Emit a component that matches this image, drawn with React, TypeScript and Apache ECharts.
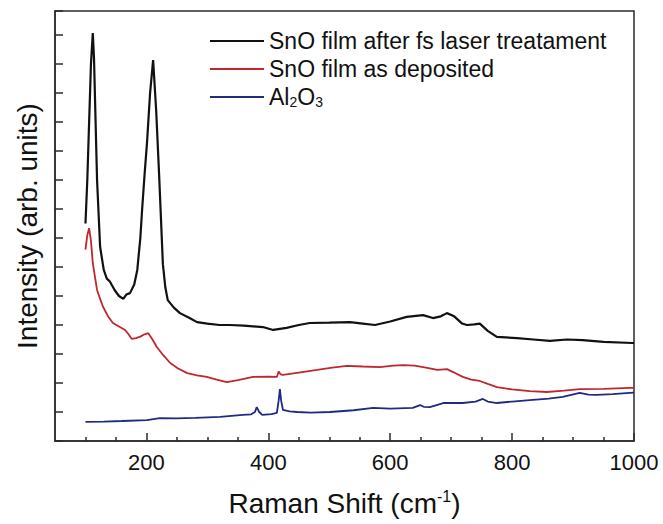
import React, { useEffect, useRef } from "react";
import * as echarts from "echarts";

// Raman shift (cm^-1) and intensity (arb. units) for each spectrum
const treatedX = [100, 103, 106, 109, 112, 114, 116, 119, 124, 130, 135, 140, 148, 155, 162, 167, 173, 180, 185, 190, 193, 197, 201, 206, 211, 216, 221, 227, 231, 235, 245, 255, 270, 283, 300, 320, 337, 360, 391, 408, 430, 450, 468, 500, 534, 555, 575, 600, 627, 654, 670, 683, 693, 705, 718, 726, 738, 747, 760, 775, 808, 835, 862, 890, 916, 950, 997, 1000];
const treatedY = [7.5, 9.0, 11.0, 13.0, 14.07, 13.2, 11.5, 9.0, 6.7, 5.9, 5.6, 5.5, 5.2, 5.0, 4.9, 5.05, 5.1, 5.4, 5.9, 7.0, 8.0, 9.2, 10.3, 12.0, 13.14, 11.4, 9.1, 6.1, 5.3, 4.86, 4.6, 4.41, 4.25, 4.1, 4.05, 4.0, 4.0, 3.98, 3.93, 3.83, 3.9, 4.0, 4.07, 4.08, 4.1, 4.05, 4.0, 4.12, 4.28, 4.34, 4.24, 4.3, 4.41, 4.3, 4.05, 4.0, 4.02, 4.05, 3.8, 3.59, 3.55, 3.5, 3.45, 3.5, 3.48, 3.42, 3.38, 3.38];

const depositedX = [100, 103, 106, 109, 112, 116, 119, 124, 129, 137, 145, 155, 165, 170, 176, 183, 190, 197, 203, 210, 217, 228, 239, 252, 267, 283, 299, 315, 332, 350, 375, 400, 414, 417, 420, 424, 450, 480, 505, 529, 555, 583, 605, 621, 640, 654, 667, 677, 693, 705, 719, 733, 747, 760, 775, 800, 829, 857, 885, 911, 950, 993, 1000];
const depositedY = [6.6, 7.1, 7.34, 6.9, 6.14, 5.6, 5.21, 4.9, 4.62, 4.3, 4.07, 3.95, 3.83, 3.7, 3.52, 3.55, 3.6, 3.68, 3.72, 3.5, 3.24, 2.95, 2.69, 2.5, 2.34, 2.26, 2.21, 2.12, 2.03, 2.1, 2.21, 2.22, 2.21, 2.4, 2.3, 2.28, 2.36, 2.45, 2.53, 2.59, 2.57, 2.55, 2.6, 2.62, 2.6, 2.55, 2.5, 2.45, 2.48, 2.36, 2.21, 2.12, 2.07, 1.97, 1.86, 1.78, 1.72, 1.69, 1.74, 1.79, 1.8, 1.83, 1.83];

const substrateX = [100, 130, 160, 201, 222, 250, 280, 321, 358, 372, 378, 381, 385, 390, 405, 414, 417, 419, 421, 424, 435, 447, 470, 501, 540, 572, 600, 637, 649, 655, 665, 687, 719, 740, 752, 760, 775, 800, 829, 860, 883, 911, 925, 939, 965, 993, 1000];
const substrateY = [0.66, 0.67, 0.69, 0.72, 0.79, 0.78, 0.8, 0.83, 0.9, 0.92, 1.0, 1.17, 1.0, 0.9, 0.93, 0.97, 1.4, 1.79, 1.4, 1.07, 1.02, 1.0, 0.98, 1.0, 1.06, 1.14, 1.12, 1.14, 1.24, 1.18, 1.17, 1.31, 1.31, 1.36, 1.45, 1.36, 1.31, 1.36, 1.41, 1.46, 1.52, 1.66, 1.6, 1.59, 1.62, 1.66, 1.67];

const seriesNames = ["SnO film after fs laser treatament", "SnO film as deposited", "Al2O3"];
const xMajorTicks = [200, 400, 600, 800, 1000];
const xMinorTicks = [100, 150, 250, 300, 350, 450, 500, 550, 650, 700, 750, 850, 900, 950];

const zip = (xs: number[], ys: number[]) => xs.map((x, i) => [x, ys[i]]);

const FONT = "'Liberation Sans', Arial, Helvetica, sans-serif";
const AXIS_COLOR = "#2b2b2b";

export default function App() {
  const ref = useRef<HTMLDivElement>(null);

  useEffect(() => {
    if (!ref.current) return;
    const chart = echarts.init(ref.current, undefined, { renderer: "svg" });
    const colors = ["#111111", "#c0272d", "#1f2a82"];
    chart.setOption({
      animation: false,
      backgroundColor: "#ffffff",
      textStyle: { fontFamily: FONT },
      grid: {
        left: 55,
        top: 11,
        right: 29,
        bottom: 83,
        show: true,
        borderColor: AXIS_COLOR,
        borderWidth: 1.5,
        backgroundColor: "transparent",
      },
      legend: {
        orient: "vertical",
        left: 205,
        top: 24,
        itemWidth: 54,
        itemHeight: 2,
        itemGap: 4,
        icon: "rect",
        data: seriesNames.map((n, i) => ({
          name: n,
          itemStyle: { color: colors[i] },
        })),
        formatter: (name: string) =>
          name === "Al2O3" ? "Al{sub|2}O{sub|3}" : name,
        textStyle: {
          fontFamily: FONT,
          fontSize: 23,
          color: "#111",
          lineHeight: 24,
          rich: {
            sub: {
              fontFamily: FONT,
              fontSize: 14,
              lineHeight: 2,
              verticalAlign: "bottom",
              color: "#111",
            },
          },
        },
      },
      xAxis: [
        {
          type: "value",
          min: 50,
          max: 1000,
          name: "Raman Shift (cm{sup|-1})",
          nameLocation: "middle",
          nameGap: 47,
          nameTextStyle: {
            fontFamily: FONT,
            fontSize: 28,
            color: "#111",
            lineHeight: 30,
            rich: {
              sup: {
                fontFamily: FONT,
                fontSize: 16,
                lineHeight: 14,
                verticalAlign: "top",
                color: "#111",
              },
            },
          },
          axisLine: { show: true, lineStyle: { color: AXIS_COLOR, width: 1.5 } },
          axisTick: {
            show: true,
            inside: true,
            length: 8,
            customValues: xMajorTicks,
            lineStyle: { color: AXIS_COLOR, width: 1.5 },
          },
          axisLabel: {
            customValues: xMajorTicks,
            formatter: (v: number) => String(v),
            fontFamily: FONT,
            fontSize: 22,
            color: "#111",
            margin: 10,
          },
          splitLine: { show: false },
        },
        {
          type: "value",
          min: 50,
          max: 1000,
          position: "bottom",
          axisLine: { show: false },
          axisTick: {
            show: true,
            inside: true,
            length: 4,
            customValues: xMinorTicks,
            lineStyle: { color: AXIS_COLOR, width: 1.5 },
          },
          axisLabel: { show: false },
          splitLine: { show: false },
        },
      ],
      yAxis: {
        type: "value",
        min: 0,
        max: 14.83,
        interval: 1,
        name: "Intensity (arb. units)",
        nameLocation: "middle",
        nameGap: 14,
        nameTextStyle: { fontFamily: FONT, fontSize: 28, color: "#111" },
        axisLine: { show: true, lineStyle: { color: AXIS_COLOR, width: 1.5 } },
        axisTick: {
          show: true,
          inside: true,
          length: 8,
          lineStyle: { color: AXIS_COLOR, width: 1.5 },
        },
        axisLabel: { show: false },
        splitLine: { show: false },
      },
      series: [
        {
          name: seriesNames[0],
          type: "line",
          symbol: "none",
          data: zip(treatedX, treatedY),
          lineStyle: { color: colors[0], width: 2.2 },
          itemStyle: { color: colors[0] },
        },
        {
          name: seriesNames[1],
          type: "line",
          symbol: "none",
          data: zip(depositedX, depositedY),
          lineStyle: { color: colors[1], width: 1.8 },
          itemStyle: { color: colors[1] },
        },
        {
          name: seriesNames[2],
          type: "line",
          symbol: "none",
          data: zip(substrateX, substrateY),
          lineStyle: { color: colors[2], width: 1.8 },
          itemStyle: { color: colors[2] },
        },
      ],
    });
    return () => chart.dispose();
  }, []);

  return (
    <div
      ref={ref}
      style={{ position: "fixed", left: 0, top: 0, width: 663, height: 524, background: "#fff" }}
    />
  );
}
